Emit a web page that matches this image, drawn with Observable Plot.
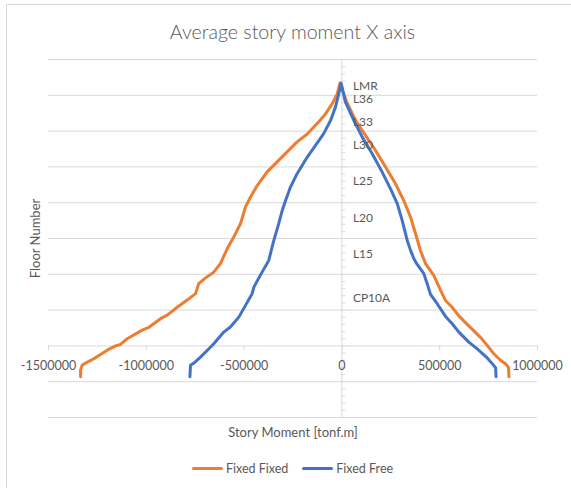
<!DOCTYPE html>
<html>
<head>
<meta charset="utf-8">
<script src="https://cdn.jsdelivr.net/npm/d3@7"></script>
<script src="https://cdn.jsdelivr.net/npm/@observablehq/plot@0.6"></script>
<style>
  body { margin: 0; background: #fff; }
  #chart { position: relative; width: 571px; height: 488px; overflow: hidden; font-family: Lato, "Open Sans", sans-serif; color: #595959; background: #fff; }
  #border { position: absolute; left: 6px; top: 4px; width: 700px; height: 700px; border-left: 1px solid #d9d9d9; border-top: 1px solid #d9d9d9; }
  #title { position: absolute; left: 0; top: 20px; width: 585px; text-align: center; font-size: 19.6px; font-weight: 300; white-space: nowrap; }
  #plot { position: absolute; left: 0; top: 50px; }
  #legend { position: absolute; left: 0; top: 458px; width: 585px; height: 20px; display: flex; justify-content: center; align-items: center; font-size: 12.5px; }
  .item { display: flex; align-items: center; margin: 0 7px; }
  .swatch { width: 31px; height: 3px; border-radius: 1.5px; margin-right: 3px; }
</style>
</head>
<body>
<div id="chart">
  <div id="border"></div>
  <div id="title">Average story moment X axis</div>
  <div id="plot"></div>
  <div id="legend"></div>
</div>
<script>
// ---- data ----
const seriesNames = ["Fixed Fixed", "Fixed Free"];
const seriesColors = ["#ED7D31", "#4472C4"];

// Fixed Fixed: story moment [tonf.m] and floor number, path from bottom-left over the roof to bottom-right
const fixedFixedMoment = [
  -1336000, -1336000, -1328000, -1311000, -1268000, -1200000, -1157000, -1132000, -1098000, -1021000,
  -987000, -927000, -893000, -842000, -791000, -748000, -732000, -697000, -655000, -621000,
  -586000, -553000, -518000, -493000, -467000, -433000, -382000, -331000, -280000, -229000,
  -177000, -118000, -84000, -50000, -24000, -10000,
  23500, 69500, 120600, 171800, 222900, 274000, 316400, 350700, 376200, 401800,
  427400, 469800, 495400, 512700, 529600, 563900, 597600, 648700, 708500, 742800,
  776500, 810800, 836300, 852000, 854000
];
const fixedFixedFloor = [
  -4.3, -3.4, -2.7, -2.4, -1.8, -0.6, 0.0, 0.2, 1.0, 2.2,
  2.6, 3.8, 4.3, 5.4, 6.4, 7.3, 8.7, 9.5, 10.3, 11.5,
  13.6, 15.2, 17.1, 19.4, 20.8, 22.4, 24.3, 25.7, 27.1, 28.5,
  29.6, 31.3, 32.4, 33.8, 35.2, 36.7,
  34.15, 31.5, 29.4, 27.3, 25.0, 22.65, 20.3, 18.0, 15.7, 13.3,
  11.5, 9.85, 8.3, 7.3, 6.35, 5.4, 4.2, 2.8, 1.2, 0.07,
  -1.1, -2.0, -2.5, -3.0, -4.3
];

// Fixed Free
const fixedFreeMoment = [
  -777000, -774000, -757000, -723000, -680000, -655000, -604000, -570000, -527000, -493000,
  -459000, -450000, -416000, -374000, -348000, -323000, -305000, -288000, -263000, -229000,
  -177000, -135000, -93000, -58000, -33000, -16000, -4000,
  18000, 61000, 104000, 155000, 206000, 248000, 283000, 308000, 334000, 351000,
  368000, 385000, 419000, 436000, 453000, 487000, 530000, 564000, 598000, 649000,
  692000, 743000, 772000, 786000, 788000
];
const fixedFreeFloor = [
  -4.3, -2.7, -2.4, -1.56, -0.39, 0.31, 1.93, 2.63, 4.02, 5.66,
  7.29, 8.21, 9.92, 11.94, 14.73, 17.07, 18.92, 20.32, 22.18, 24.05,
  26.37, 28.0, 29.64, 31.49, 33.35, 35.22, 36.7,
  34.05, 31.49, 29.16, 26.84, 24.27, 21.96, 19.86, 17.53, 14.73, 13.34,
  12.18, 11.38, 10.08, 8.69, 7.19, 5.89, 4.12, 3.10, 1.93, 0.53,
  -0.42, -1.68, -2.58, -3.07, -4.3
];

// floor labels next to the vertical axis
const floorLabelNames = ["LMR", "L36", "L33", "L30", "L25", "L20", "L15", "CP10A"];
const floorLabelLevels = [36.3, 34.4, 31.3, 28.1, 23.0, 17.9, 12.8, 6.7];

// axes
const xTicks = [-1500000, -1000000, -500000, 0, 500000, 1000000];
const xTickLabels = ["-1500000", "-1000000", "-500000", "0", "500000", "1000000"];
const yTicks = [-10, -5, 0, 5, 10, 15, 20, 25, 30, 35, 40];
const yMinorTicks = d3.range(-10, 41, 1);

// ---- build tables ----
const lineData = [
  ...fixedFixedMoment.map((m, i) => ({series: seriesNames[0], moment: m, floor: fixedFixedFloor[i]})),
  ...fixedFreeMoment.map((m, i) => ({series: seriesNames[1], moment: m, floor: fixedFreeFloor[i]}))
];
const labelData = floorLabelNames.map((t, i) => ({text: t, floor: floorLabelLevels[i]}));
const xTickData = xTicks.map((v, i) => ({value: v, label: xTickLabels[i]}));

const grid = "#d9d9d9";
const plot = Plot.plot({
  width: 571,
  height: 398,
  marginLeft: 48,
  marginRight: 34,
  marginTop: 9,
  marginBottom: 31,
  x: {domain: [-1500000, 1000000], axis: null},
  y: {domain: [-10, 40], axis: null},
  color: {domain: seriesNames, range: seriesColors},
  style: {fontFamily: "Lato, 'Open Sans', sans-serif", fontSize: "13px", color: "#595959", background: "transparent"},
  marks: [
    Plot.ruleY(yTicks, {stroke: grid, strokeWidth: 1}),
    Plot.ruleX([0], {y1: -10, y2: 40, stroke: grid, strokeWidth: 1}),
    Plot.ruleY(yMinorTicks, {x1: 0, x2: 20000, stroke: grid, strokeWidth: 1}),
    Plot.ruleX(xTicks, {y1: 0, y2: -0.7, stroke: grid, strokeWidth: 1}),
    Plot.text(xTickData, {x: "value", y: () => 0, dy: 20, text: "label", fontSize: 12.5, fill: "#595959"}),
    Plot.line(lineData, {x: "moment", y: "floor", z: "series", stroke: "series", strokeWidth: 3, strokeLinejoin: "round", strokeLinecap: "round"}),
    Plot.text(labelData, {x: () => 0, y: "floor", text: "text", dx: 11, textAnchor: "start", fontSize: 12, fill: "#595959"}),
    Plot.text(["Story Moment [tonf.m]"], {frameAnchor: "bottom", textAnchor: "middle", lineAnchor: "middle", dy: 15.5, fontSize: 13, fill: "#595959"}),
    Plot.text(["Floor Number"], {frameAnchor: "left", textAnchor: "middle", lineAnchor: "middle", dx: -13, rotate: -90, fontSize: 13, fill: "#595959"})
  ]
});
document.getElementById("plot").appendChild(plot);

// legend
const legend = document.getElementById("legend");
seriesNames.forEach((name, i) => {
  const item = document.createElement("div");
  item.className = "item";
  const sw = document.createElement("span");
  sw.className = "swatch";
  sw.style.background = seriesColors[i];
  const label = document.createElement("span");
  label.textContent = name;
  item.appendChild(sw);
  item.appendChild(label);
  legend.appendChild(item);
});
</script>
</body>
</html>
